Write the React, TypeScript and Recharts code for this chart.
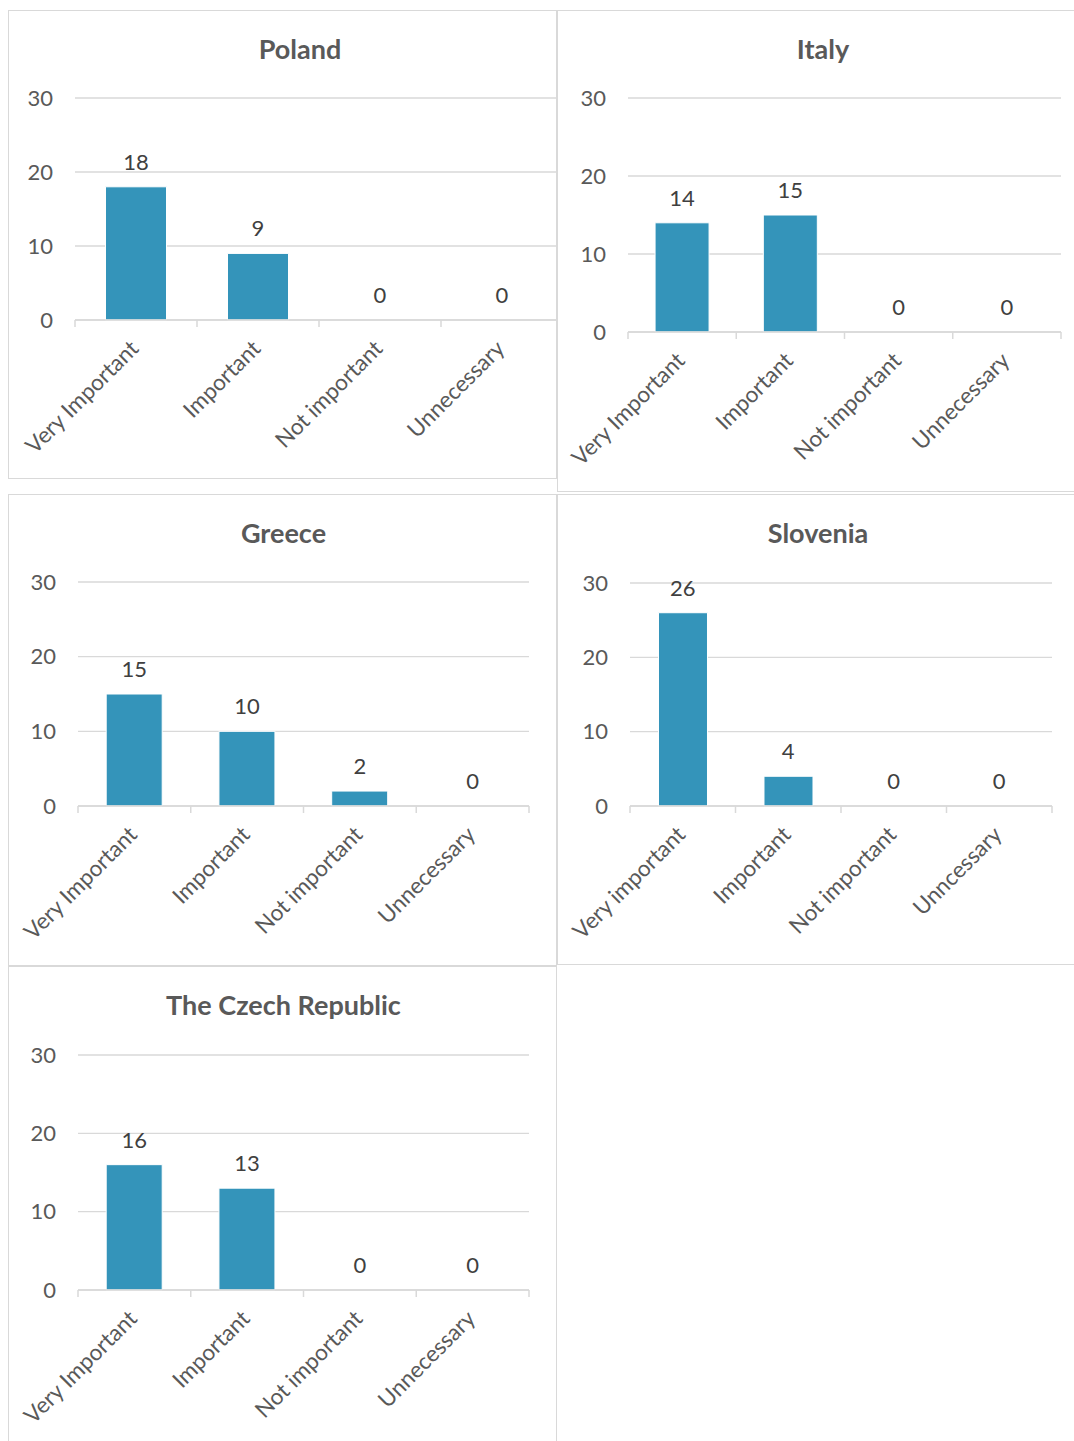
import React from 'react';
import { ComposedChart, Bar, Line, XAxis, YAxis, CartesianGrid, LabelList } from 'recharts';

// ---------- data ----------
const standardCategories = ['Very Important', 'Important', 'Not important', 'Unnecessary'];
const sloveniaCategories = ['Very important', 'Important', 'Not important', 'Unncessary'];

const polandValues = [18, 9, 0, 0];
const italyValues = [14, 15, 0, 0];
const greeceValues = [15, 10, 2, 0];
const sloveniaValues = [26, 4, 0, 0];
const czechValues = [16, 13, 0, 0];

const yTicks = [0, 10, 20, 30];

// ---------- style ----------
const FONT = 'Lato, "Open Sans", sans-serif';
const BAR_COLOR = '#3494BA';
const GRID = '#D9D9D9';
const TEXT = '#595959';
const LABEL = '#404040';

type PanelDef = {
  title: string;
  categories: string[];
  values: number[];
  box: { left: number; top: number; width: number; height: number };
  plot: { left: number; right: number; top: number; bottom: number };
  titleX: number;
  titleY: number;
  gap: string;
};

const panels: PanelDef[] = [
  {
    title: 'Poland',
    categories: standardCategories,
    values: polandValues,
    box: { left: 8, top: 10, width: 549, height: 469 },
    plot: { left: 66, right: 554, top: 87, bottom: 309 },
    titleX: 291,
    titleY: 37,
    gap: '25%',
  },
  {
    title: 'Italy',
    categories: standardCategories,
    values: italyValues,
    box: { left: 557, top: 10, width: 530, height: 482 },
    plot: { left: 70, right: 503, top: 87, bottom: 321 },
    titleX: 265,
    titleY: 37,
    gap: '25%',
  },
  {
    title: 'Greece',
    categories: standardCategories,
    values: greeceValues,
    box: { left: 8, top: 494, width: 549, height: 472 },
    plot: { left: 69, right: 520, top: 87, bottom: 311 },
    titleX: 274.5,
    titleY: 37,
    gap: '25%',
  },
  {
    title: 'Slovenia',
    categories: sloveniaCategories,
    values: sloveniaValues,
    box: { left: 557, top: 494, width: 530, height: 471 },
    plot: { left: 72, right: 494, top: 88, bottom: 311 },
    titleX: 260,
    titleY: 37,
    gap: '27%',
  },
  {
    title: 'The Czech Republic',
    categories: standardCategories,
    values: czechValues,
    box: { left: 8, top: 966, width: 549, height: 490 },
    plot: { left: 69, right: 520, top: 88, bottom: 323 },
    titleX: 274.5,
    titleY: 37,
    gap: '25%',
  },
];

function makeTick(band: number, count: number) {
  return (props: any) => {
    const { x, y, payload, index } = props;
    const ax = x + 4;
    const ay = y + 30;
    return (
      <g>
        <line x1={x - band / 2} y1={y} x2={x - band / 2} y2={y + 7} stroke={GRID} strokeWidth={1.5} />
        {index === count - 1 && (
          <line x1={x + band / 2} y1={y} x2={x + band / 2} y2={y + 7} stroke={GRID} strokeWidth={1.5} />
        )}
        <text
          x={ax}
          y={ay}
          textAnchor="end"
          transform={`rotate(-45 ${ax} ${ay})`}
          fontSize={22.5}
          fill={TEXT}
          fontFamily={FONT}
        >
          {payload.value}
        </text>
      </g>
    );
  };
}

function Panel({ def }: { def: PanelDef }) {
  const { box, plot } = def;
  const innerH = box.height - 2;
  const chartW = plot.right + 10;
  const data = def.categories.map((c, i) => ({ name: c, value: def.values[i] }));
  const band = (plot.right - plot.left) / def.categories.length;
  return (
    <div
      style={{
        position: 'absolute',
        left: box.left,
        top: box.top,
        width: box.width,
        height: box.height,
        boxSizing: 'border-box',
        border: `1px solid ${GRID}`,
        overflow: 'hidden',
        background: '#fff',
      }}
    >
      <div
        style={{
          position: 'absolute',
          left: def.titleX,
          top: def.titleY,
          transform: 'translate(-50%, -50%)',
          fontFamily: FONT,
          fontWeight: 700,
          fontSize: 27,
          color: TEXT,
          whiteSpace: 'nowrap',
          zIndex: 2,
        }}
      >
        {def.title}
      </div>
      <div style={{ position: 'absolute', left: 0, top: 0 }}>
        <ComposedChart
          width={chartW}
          height={innerH}
          data={data}
          margin={{ top: plot.top, right: 10, bottom: 0, left: 0 }}
          barCategoryGap={def.gap}
        >
          <CartesianGrid horizontal vertical={false} stroke={GRID} strokeWidth={1.3} />
          <XAxis
            dataKey="name"
            interval={0}
            height={innerH - plot.bottom}
            axisLine={{ stroke: GRID, strokeWidth: 1.5 }}
            tickLine={false}
            tickSize={0}
            tickMargin={0}
            tick={makeTick(band, def.categories.length)}
          />
          <YAxis
            width={plot.left}
            domain={[0, 30]}
            ticks={yTicks}
            axisLine={false}
            tickLine={false}
            tickSize={0}
            tickMargin={22}
            tick={{ fontSize: 22, fill: TEXT, fontFamily: FONT }}
          />
          <Bar dataKey="value" fill={BAR_COLOR} stroke="#ffffff" strokeWidth={1} isAnimationActive={false} />
          <Line
            dataKey="value"
            stroke="none"
            dot={false}
            activeDot={false}
            isAnimationActive={false}
          >
            <LabelList
              dataKey="value"
              position="top"
              offset={17}
              style={{ fontSize: 22, fill: LABEL, fontFamily: FONT }}
            />
          </Line>
        </ComposedChart>
      </div>
    </div>
  );
}

export default function App() {
  return (
    <div
      style={{
        position: 'absolute',
        left: 0,
        top: 0,
        width: 1074,
        height: 1441,
        overflow: 'hidden',
        background: '#ffffff',
      }}
    >
      {panels.map((p) => (
        <Panel key={p.title} def={p} />
      ))}
    </div>
  );
}
